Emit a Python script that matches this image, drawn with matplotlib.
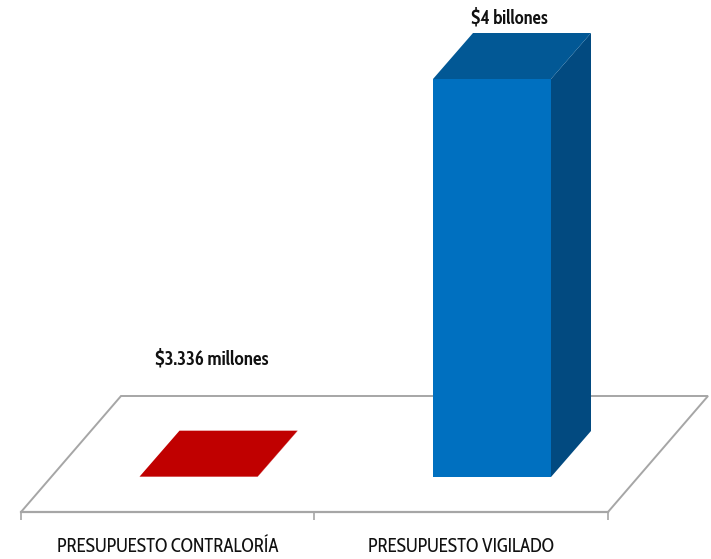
import matplotlib
matplotlib.use("Agg")
import matplotlib.pyplot as plt
from matplotlib.patches import Polygon

categories = ["PRESUPUESTO CONTRALORÍA", "PRESUPUESTO VIGILADO"]
values_millones = [3336, 4000000]
value_labels = ["$3.336 millones", "$4 billones"]

W, H = 711, 559
plt.rcParams["font.family"] = ["Cabin Condensed", "Archivo Narrow", "Lato", "DejaVu Sans"]

fig = plt.figure(figsize=(W / 100, H / 100), dpi=100, facecolor="white")
ax = fig.add_axes([21 / W, (H - 512) / H, 587 / W, 512 / H])

# scales: category step = 293.5 px, 4,000,000 = 398 px
px_x = 293.5
px_y = 398 / 4000000
ax.set_xlim((21 - 198.5) / px_x, (608 - 198.5) / px_x)
ax.set_ylim(-35 / px_y, 477 / px_y)
ax.patch.set_alpha(0)
for s in ["top", "left", "right"]:
    ax.spines[s].set_visible(False)
ax.spines["bottom"].set_color("#a6a6a6")
ax.spines["bottom"].set_linewidth(1.6)

x0, x1 = ax.get_xlim()
y0 = ax.get_ylim()[0]
ax.set_xticks([x0, (x0 + x1) / 2, x1])
ax.set_xticklabels([])
ax.tick_params(axis="x", length=6, width=1.2, color="#a6a6a6")
ax.set_yticks([])

# floor
fdx, fdy = 100 / px_x, 116 / px_y
ax.add_patch(Polygon([(x0, y0), (x1, y0), (x1 + fdx, y0 + fdy), (x0 + fdx, y0 + fdy)],
                     closed=True, facecolor="white", edgecolor="#a6a6a6", linewidth=1.4,
                     clip_on=False, zorder=1))

# 3-D bars
bw = 118 / px_x
ddx, ddy = 40 / px_x, 46 / px_y
faces = [("#C00000", "#C00000", "#C00000"), ("#0070C0", "#025895", "#024A80")]
for i, v in enumerate(values_millones):
    front, top, side = faces[i]
    l, r = i - bw / 2, i + bw / 2
    ax.bar(i, v, width=bw, color=front, linewidth=0, zorder=3)
    ax.add_patch(Polygon([(l, v), (r, v), (r + ddx, v + ddy), (l + ddx, v + ddy)],
                         closed=True, facecolor=top, edgecolor="none", clip_on=False, zorder=3))
    ax.add_patch(Polygon([(r, 0), (r + ddx, ddy), (r + ddx, v + ddy), (r, v)],
                         closed=True, facecolor=side, edgecolor="none", clip_on=False, zorder=2))

# value labels
label_off = [(13, 117), (17, 61)]
label_size = [13.7, 13.3]
for i, v in enumerate(values_millones):
    ax.annotate(value_labels[i], (i, v), xytext=(label_off[i][0] * 0.72, label_off[i][1] * 0.72),
                textcoords="offset points", ha="center", va="center",
                fontsize=label_size[i], fontweight="bold", color="#111111", annotation_clip=False)

# category labels
for i, c in enumerate(categories):
    ax.annotate(c, (x0 + (i + 0.5) * (x1 - x0) / 2, y0), xytext=(0, -25.5),
                textcoords="offset points", ha="center", va="center",
                fontsize=13.5, color="#111111", annotation_clip=False)

fig.savefig("out.png", dpi=100, facecolor="white")
